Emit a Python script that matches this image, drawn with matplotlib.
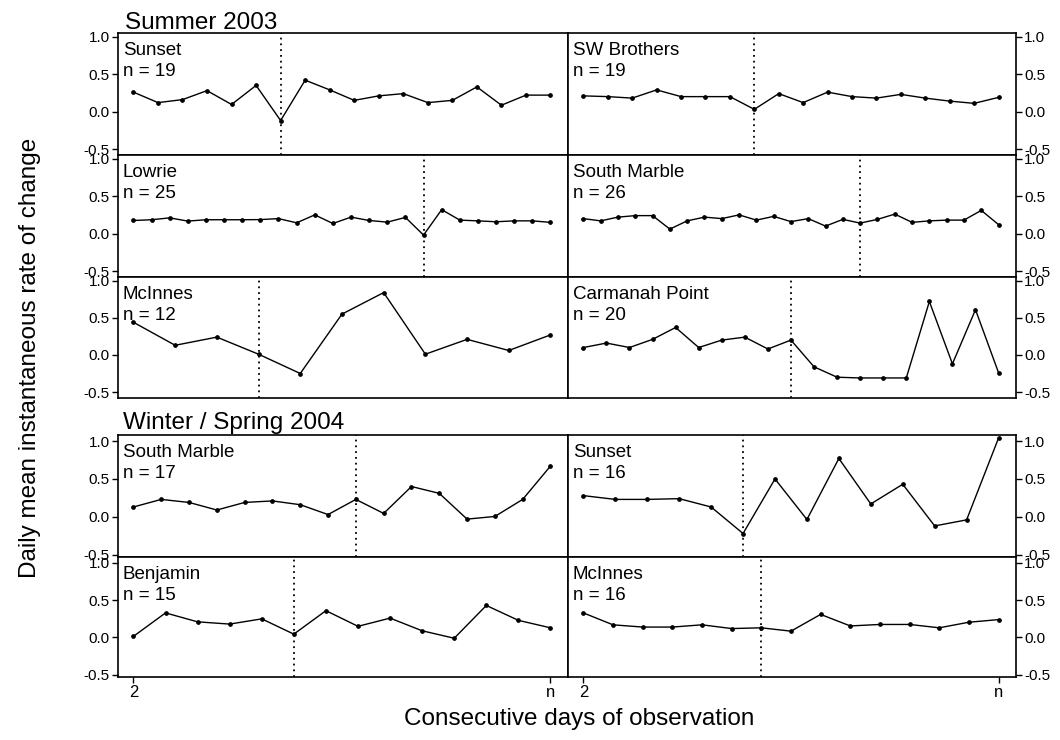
import numpy as np
import matplotlib.pyplot as plt

plt.rcParams['font.family'] = ['Liberation Sans', 'DejaVu Sans']

# Summer 2003 (values for days 2..n)
sunset_03 = [0.26, 0.12, 0.16, 0.28, 0.095, 0.35, -0.12, 0.42, 0.29, 0.15,
             0.21, 0.24, 0.12, 0.15, 0.33, 0.085, 0.22, 0.22]
sw_brothers_03 = [0.21, 0.20, 0.18, 0.29, 0.20, 0.20, 0.20, 0.03, 0.24, 0.12,
                  0.26, 0.20, 0.18, 0.23, 0.18, 0.14, 0.11, 0.19]
lowrie_03 = [0.175, 0.185, 0.21, 0.167, 0.185, 0.185, 0.185, 0.187, 0.20, 0.144,
             0.25, 0.135, 0.22, 0.175, 0.153, 0.216, -0.02, 0.32, 0.18, 0.17,
             0.158, 0.17, 0.17, 0.15]
south_marble_03 = [0.20, 0.17, 0.22, 0.24, 0.24, 0.06, 0.17, 0.22, 0.20, 0.25,
                   0.18, 0.23, 0.16, 0.20, 0.10, 0.19, 0.14, 0.19, 0.26, 0.15,
                   0.17, 0.18, 0.18, 0.31, 0.12]
mcinnes_03 = [0.44, 0.13, 0.24, 0.01, -0.25, 0.55, 0.84, 0.01, 0.21, 0.06, 0.27]
carmanah_03 = [0.10, 0.16, 0.10, 0.21, 0.37, 0.10, 0.20, 0.24, 0.08, 0.20,
               -0.16, -0.30, -0.31, -0.31, -0.31, 0.72, -0.12, 0.61, -0.24]

# Winter / Spring 2004
south_marble_04 = [0.13, 0.23, 0.19, 0.09, 0.19, 0.21, 0.16, 0.03, 0.23, 0.045,
                   0.40, 0.31, -0.03, 0.005, 0.23, 0.67]
sunset_04 = [0.28, 0.23, 0.23, 0.24, 0.13, -0.22, 0.50, -0.035, 0.77, 0.17,
             0.43, -0.12, -0.04, 1.04]
benjamin_04 = [0.015, 0.33, 0.21, 0.18, 0.25, 0.045, 0.36, 0.15, 0.26, 0.09,
               -0.01, 0.43, 0.23, 0.13]
mcinnes_04 = [0.33, 0.17, 0.14, 0.14, 0.17, 0.12, 0.13, 0.085, 0.31, 0.155,
              0.175, 0.175, 0.13, 0.205, 0.24]

site_names = ["Sunset", "SW Brothers", "Lowrie", "South Marble", "McInnes", "Carmanah Point",
              "South Marble", "Sunset", "Benjamin", "McInnes"]
site_n = [19, 19, 25, 26, 12, 20, 17, 16, 15, 16]
site_series = [sunset_03, sw_brothers_03, lowrie_03, south_marble_03, mcinnes_03, carmanah_03,
               south_marble_04, sunset_04, benjamin_04, mcinnes_04]
change_idx = [6, 7, 16, 16, 3, 9, 8, 5, 5, 6]

W, H = 1060, 740
cols = [(118, 568), (568, 1016)]
rows = [(33, 155), (155, 277), (277, 398), (435, 557), (557, 677)]


def rect(x0, x1, y0, y1):
    return [x0 / W, 1 - y1 / H, (x1 - x0) / W, (y1 - y0) / H]


fig = plt.figure(figsize=(10.6, 7.4), dpi=100)

for i in range(10):
    r, c = i // 2, i % 2
    ax = fig.add_axes(rect(cols[c][0], cols[c][1], rows[r][0], rows[r][1]))
    vals = site_series[i]
    x = np.arange(len(vals))
    ax.plot(x, vals, color='black', lw=1.0, marker='o', ms=2.4)
    ax.axvline(change_idx[i], color='black', lw=1.3, linestyle=(0, (1, 2.2)))
    span = len(vals) - 1
    ax.set_xlim(-0.037 * span, span * 1.042)
    if r < 3:
        ax.set_ylim(-0.58, 1.05)
    else:
        ax.set_ylim(-0.53, 1.08)
    ax.set_yticks([-0.5, 0.0, 0.5, 1.0])
    ax.set_yticklabels(['-0.5', '0.0', '0.5', '1.0'])
    if c == 1:
        ax.yaxis.tick_right()
    ax.tick_params(axis='y', direction='out', length=4, width=1, labelsize=11, pad=2)
    if r == 4:
        ax.set_xticks([0, span])
        ax.set_xticklabels(['2', 'n'])
        ax.tick_params(axis='x', direction='out', length=4, width=1, labelsize=12, pad=2)
    else:
        ax.set_xticks([])
    for s in ax.spines.values():
        s.set_linewidth(1.2)
    ax.annotate(site_names[i], xy=(0, 1), xycoords='axes fraction',
                xytext=(5, -22), textcoords='offset pixels', fontsize=13.5, va='baseline')
    ax.annotate(f"n = {site_n[i]}", xy=(0, 1), xycoords='axes fraction',
                xytext=(5, -43), textcoords='offset pixels', fontsize=13.5, va='baseline')

fig.text(125 / W, 1 - 29 / H, "Summer 2003", fontsize=17.5, va='baseline')
fig.text(123 / W, 1 - 429 / H, "Winter / Spring 2004", fontsize=17.5, va='baseline')
fig.text(579 / W, 1 - 719 / H, "Consecutive days of observation", fontsize=17.5,
         ha='center', va='center')
fig.text(30 / W, 1 - 358 / H, "Daily mean instantaneous rate of change", fontsize=17.5,
         ha='center', va='center', rotation=90)

fig.savefig('out.png', dpi=100)
